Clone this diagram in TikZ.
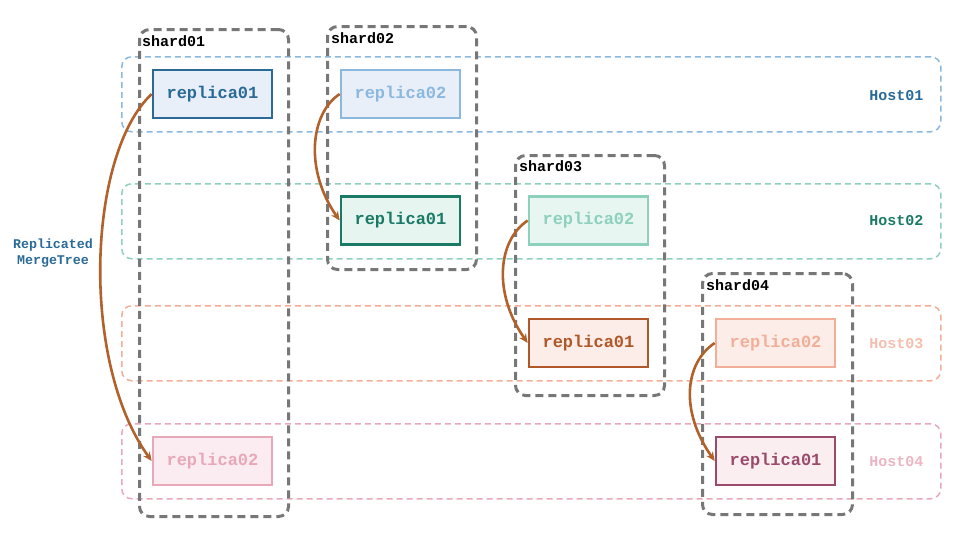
\documentclass[tikz,border=0pt]{standalone}
\usepackage{fontspec}
\setmainfont{Liberation Mono}
\usetikzlibrary{arrows.meta}
\definecolor{hb}{HTML}{8DB8DE}
\definecolor{ht}{HTML}{8DD0BC}
\definecolor{hs}{HTML}{F2AE98}
\definecolor{hp}{HTML}{E8A8B9}
\definecolor{darkblue}{HTML}{2A6A96}
\definecolor{darkteal}{HTML}{1A7A66}
\definecolor{brown}{HTML}{B0582A}
\definecolor{plum}{HTML}{9A4A6A}
\definecolor{arr}{HTML}{B0612C}
\definecolor{shardgray}{HTML}{777777}
\definecolor{lightblue}{HTML}{E8EFF9}
\tikzset{
  hostbox/.style={draw=#1, line width=1.5pt, dash pattern=on 6pt off 4pt, rounded corners=10pt},
  shardbox/.style={draw=shardgray, line width=3pt, dash pattern=on 8pt off 5pt, rounded corners=10pt},
  replbox/.style n args={3}{draw=#1, fill=#2, text=#3, line width=2.6pt, minimum width=119pt, minimum height=48pt, inner sep=0pt, font=\fontsize{17}{17}\selectfont\bfseries},
  hostlabel/.style={text=#1, font=\fontsize{15}{15}\selectfont\bfseries, anchor=east},
  shardlabel/.style={font=\fontsize{15}{15}\selectfont\bfseries, anchor=north west, inner sep=0pt},
  repl/.style={draw=arr, line width=2.6pt, -{Stealth[length=9pt,width=8pt]}}
}
\begin{document}
\begin{tikzpicture}[x=1pt,y=-1pt]
\useasboundingbox (0,0) rectangle (969,541);
% hosts
\node[hostbox=hb, minimum width=819pt, minimum height=75pt, anchor=north west] (h1) at (121,56) {};
\node[hostbox=ht, minimum width=819pt, minimum height=75pt, anchor=north west] (h2) at (121,183) {};
\node[hostbox=hs, minimum width=819pt, minimum height=75pt, anchor=north west] (h3) at (121,305) {};
\node[hostbox=hp, minimum width=819pt, minimum height=75pt, anchor=north west] (h4) at (121,423) {};
\node[hostlabel={darkblue}] (l1) at (927,96) {Host01};
\node[hostlabel={darkteal}] (l2) at (927,221) {Host02};
\node[hostlabel={hs!80}] (l3) at (927,344) {Host03};
\node[hostlabel={hp!85}] (l4) at (927,462) {Host04};
% shards
\node[shardbox, minimum width=149pt, minimum height=487pt, anchor=north west] (s1) at (138,28) {};
\node[shardbox, minimum width=149pt, minimum height=243pt, anchor=north west] (s2) at (326,25) {};
\node[shardbox, minimum width=149pt, minimum height=240pt, anchor=north west] (s3) at (514,154) {};
\node[shardbox, minimum width=150pt, minimum height=241pt, anchor=north west] (s4) at (701,272) {};
\node[shardlabel] (t1) at (142,35) {shard01};
\node[shardlabel] (t2) at (331,32) {shard02};
\node[shardlabel] (t3) at (519,160) {shard03};
\node[shardlabel] (t4) at (706,279) {shard04};
% replicas
\node[replbox={darkblue}{lightblue}{darkblue}] (r11) at (212.5,94) {replica01};
\node[replbox={hp}{hp!22}{hp}] (r12) at (212.5,461) {replica02};
\node[replbox={hb}{lightblue}{hb}] (r22) at (400.5,94) {replica02};
\node[replbox={darkteal}{ht!22}{darkteal}] (r21) at (400.5,220.5) {replica01};
\node[replbox={ht}{ht!20}{ht}] (r32) at (588.5,220.5) {replica02};
\node[replbox={brown}{hs!22}{brown}] (r31) at (588.5,343) {replica01};
\node[replbox={hs}{hs!22}{hs}] (r42) at (775.5,343) {replica02};
\node[replbox={plum}{hp!20}{plum}] (r41) at (775.5,461) {replica01};
% label
\node[text=darkblue, font=\fontsize{13.3}{16}\selectfont\bfseries, align=center] (mt) at (53,253) {Replicated\\MergeTree};
% arrows
\draw[repl] (r11.west) .. controls +(-64,60) and +(-72,-100) .. (r12.west);
\draw[repl] (r22.west) .. controls +(-30,20) and +(-35,-50) .. (r21.west);
\draw[repl] (r32.west) .. controls +(-30,20) and +(-35,-50) .. (r31.west);
\draw[repl] (r42.west) .. controls +(-30,20) and +(-35,-50) .. (r41.west);
\end{tikzpicture}
\end{document}
